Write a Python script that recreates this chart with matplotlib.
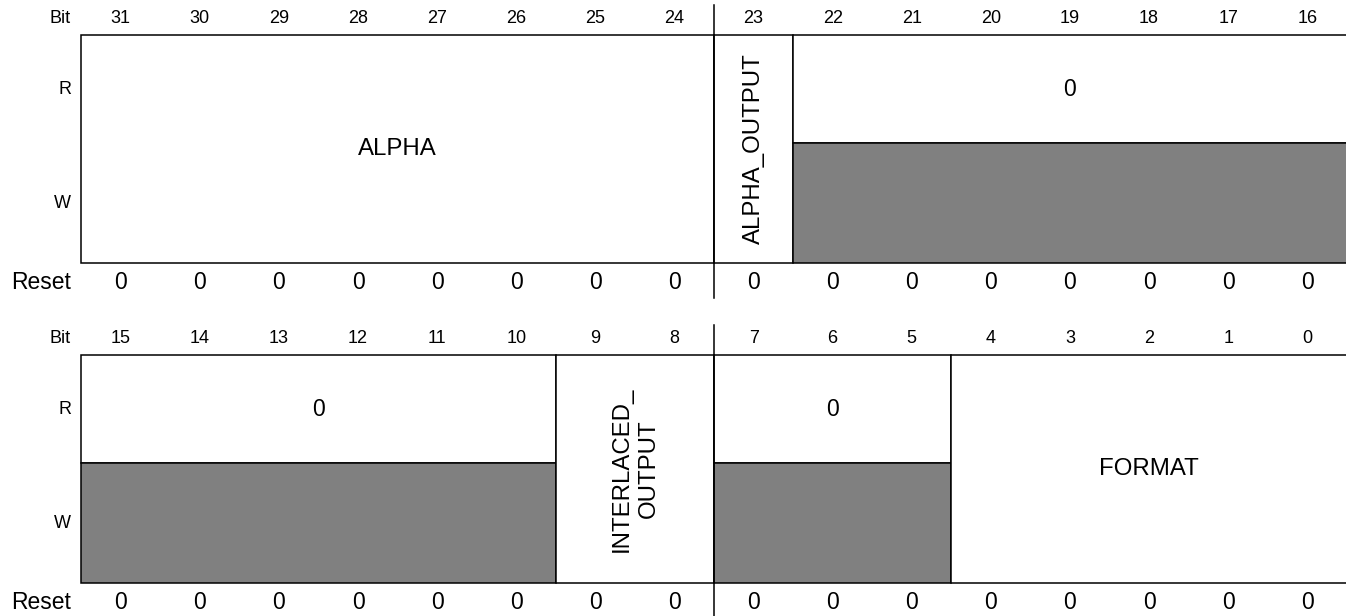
import matplotlib
matplotlib.use("Agg")
import matplotlib.pyplot as plt
from matplotlib.patches import Rectangle

plt.rcParams['font.family'] = ['Liberation Sans', 'DejaVu Sans']

# register data
top_bits = [31, 30, 29, 28, 27, 26, 25, 24, 23, 22, 21, 20, 19, 18, 17, 16]
top_names = ["ALPHA", "ALPHA_OUTPUT", "0"]
top_msb = [31, 23, 22]
top_lsb = [24, 23, 16]
top_kind = ["rw", "rw_v", "ro"]
top_reset = [0, 0, 0, 0, 0, 0, 0, 0, 0, 0, 0, 0, 0, 0, 0, 0]

bot_bits = [15, 14, 13, 12, 11, 10, 9, 8, 7, 6, 5, 4, 3, 2, 1, 0]
bot_names = ["0", "INTERLACED_\nOUTPUT", "0", "FORMAT"]
bot_msb = [15, 9, 7, 4]
bot_lsb = [10, 8, 5, 0]
bot_kind = ["ro", "rw_v", "ro", "rw"]
bot_reset = [0, 0, 0, 0, 0, 0, 0, 0, 0, 0, 0, 0, 0, 0, 0, 0]

row_labels = ["R", "W"]

# layout (pixels, y downward), column width in px
W, H = 1346, 616
x0, cw = 81.2, 79.05
lab_x = (71 - x0) / cw
gray = "#808080"
lw = 1.1
fs_small, fs_val, fs_name = 13, 16.5, 17.3

fig = plt.figure(figsize=(W / 100, H / 100), dpi=100)
ax = fig.add_axes([0, 0, 1, 1])
ax.set_xlim(-x0 / cw, (W - x0) / cw - 0.01)
ax.set_ylim(H, 0)
ax.axis("off")


def draw_register(bits, names, msb, lsb, kind, reset, off):
    y_bit, y_top, y_mid, y_bot, y_rst = 18.5 + off, 35 + off, 143.3 + off, 262.7 + off, 282.7 + off
    top_bit = bits[0]
    ax.text(lab_x, y_bit, "Bit", ha="right", va="center", fontsize=fs_small)
    ax.text(lab_x, (y_top + y_mid) / 2, row_labels[0], ha="right", va="center", fontsize=fs_small)
    ax.text(lab_x, (y_mid + y_bot) / 2 + 1, row_labels[1], ha="right", va="center", fontsize=fs_small)
    ax.text(lab_x, y_rst, "Reset", ha="right", va="center", fontsize=fs_val)
    for i, b in enumerate(bits):
        ax.text(i + 0.5, y_bit, str(b), ha="center", va="center", fontsize=fs_small)
        ax.text(i + 0.5, y_rst, str(reset[i]), ha="center", va="center", fontsize=fs_val)
    for name, hi, lo, k in zip(names, msb, lsb, kind):
        c0 = top_bit - hi
        wdt = hi - lo + 1
        if k == "ro":
            ax.add_patch(Rectangle((c0, y_top), wdt, y_mid - y_top, fc="white", ec="black", lw=lw))
            ax.add_patch(Rectangle((c0, y_mid), wdt, y_bot - y_mid, fc=gray, ec="black", lw=lw))
            ax.text(c0 + wdt / 2, (y_top + y_mid) / 2, name, ha="center", va="center", fontsize=fs_val)
        else:
            ax.add_patch(Rectangle((c0, y_top), wdt, y_bot - y_top, fc="white", ec="black", lw=lw))
            rot = 90 if k == "rw_v" else 0
            ax.text(c0 + wdt / 2, (y_top + y_bot) / 2, name, ha="center", va="center",
                    fontsize=fs_name, rotation=rot, multialignment="center", linespacing=1.3)
    # byte separator
    ax.plot([8, 8], [y_bit - 13.5, y_rst + 15.5], color="black", lw=lw)


draw_register(top_bits, top_names, top_msb, top_lsb, top_kind, top_reset, 0)
draw_register(bot_bits, bot_names, bot_msb, bot_lsb, bot_kind, bot_reset, 320)

fig.savefig("out.png", dpi=100)
